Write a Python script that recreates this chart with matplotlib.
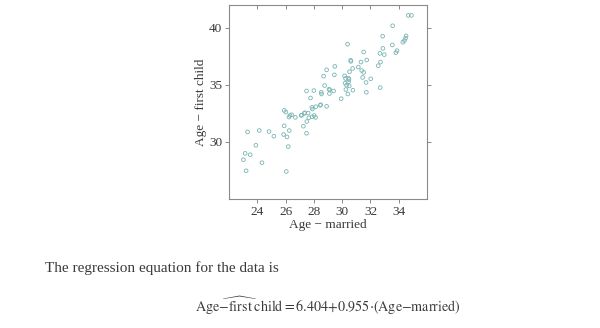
import matplotlib
matplotlib.use("Agg")
import matplotlib.pyplot as plt

plt.rcParams['font.family'] = ['Liberation Serif', 'DejaVu Serif']
plt.rcParams['mathtext.fontset'] = 'stix'

# Age at marriage vs age at first child
age_married = [
    34.67, 34.90, 33.57, 32.86, 34.52, 34.48, 34.40, 34.29, 33.55, 32.88,
    33.88, 33.80, 32.98, 32.67, 30.38, 31.52, 30.60, 30.62, 31.33, 31.74,
    32.71, 32.55, 29.48, 28.90, 30.74, 31.14, 31.38, 31.52, 29.45, 28.69,
    30.17, 30.52, 30.24, 30.45, 30.48, 31.45, 32.02, 30.21, 30.31, 30.45,
    30.50, 31.69, 28.76, 27.48, 28.00, 29.07, 29.12, 29.40, 30.26, 30.76,
    28.52, 28.54, 29.10, 30.40, 31.71, 32.69, 27.76, 29.93, 28.90, 27.86,
    27.90, 28.14, 28.45, 28.48, 28.02, 27.60, 27.33, 27.10, 25.90, 26.02,
    26.31, 26.24, 26.43, 26.69, 27.14, 27.36, 27.64, 27.88, 28.12, 25.90,
    27.26, 27.50, 26.26, 23.31, 24.14, 24.83, 25.17, 25.86, 26.10, 27.48,
    26.19, 23.90, 23.14, 23.50, 23.02, 24.33, 23.21, 26.05,
]
age_first_child = [
    41.09, 41.09, 40.18, 39.26, 39.29, 39.09, 38.88, 38.74, 38.50, 38.20,
    38.00, 37.82, 37.65, 37.76, 38.56, 37.88, 37.15, 37.06, 37.00, 37.18,
    37.00, 36.68, 36.62, 36.32, 36.44, 36.56, 36.26, 36.09, 35.88, 35.76,
    35.79, 36.15, 35.56, 35.59, 35.47, 35.65, 35.53, 35.15, 34.97, 35.26,
    34.91, 35.21, 34.94, 34.47, 34.50, 34.62, 34.56, 34.47, 34.59, 34.53,
    34.35, 34.20, 34.24, 34.20, 34.35, 34.76, 33.85, 33.79, 33.12, 33.03,
    32.88, 33.09, 33.21, 33.26, 32.32, 32.53, 32.50, 32.32, 32.76, 32.62,
    32.32, 32.18, 32.38, 32.15, 32.35, 32.56, 32.12, 32.20, 32.15, 31.41,
    31.38, 31.79, 31.00, 30.88, 31.00, 30.91, 30.50, 30.65, 30.44, 30.76,
    29.59, 29.71, 29.00, 28.88, 28.44, 28.18, 27.47, 27.41,
]
x_ticks = [24, 26, 28, 30, 32, 34]
y_ticks = [30, 35, 40]

fig = plt.figure(figsize=(6, 3.28), dpi=100)
ax = fig.add_axes([0.3817, 0.3933, 0.33, 0.5915])

ax.scatter(age_married, age_first_child, s=7, facecolors='none',
           edgecolors='#7ab4b4', linewidths=0.6)

ax.set_xlim(22, 36)
ax.set_ylim(25, 42)
ax.set_xticks(x_ticks)
ax.set_yticks(y_ticks)

for sp in ax.spines.values():
    sp.set_color('#8a8a8a')
    sp.set_linewidth(0.8)
ax.tick_params(direction='out', length=3, width=0.7, color='#8a8a8a',
               labelsize=9.5, labelcolor='#3a3a3a', pad=2,
               right=True)

top = ax.secondary_xaxis('top')
top.set_xticks(x_ticks)
top.tick_params(direction='in', length=3, width=0.7, color='#8a8a8a',
                labeltop=False)
top.spines['top'].set_visible(False)

ax.set_xlabel('Age − married', fontsize=9.5, color='#3a3a3a', labelpad=1)
ax.set_ylabel('Age − first child', fontsize=9.5, color='#3a3a3a', labelpad=1)

fig.text(45 / 600, 1 - 272 / 328, 'The regression equation for the data is',
         fontsize=11, color='#3a3a3a', ha='left', va='baseline')

eq = (r'$\mathrm{Age}\widehat{{-}\mathrm{first}}\;\mathrm{child}{=}'
      r'6.404{+}0.955{\cdot}(\mathrm{Age}{-}\mathrm{married})$')
fig.text(328 / 600, 1 - 312 / 328, eq, fontsize=10.2, color='#3a3a3a',
         ha='center', va='baseline')

fig.savefig('out.png', dpi=100)
